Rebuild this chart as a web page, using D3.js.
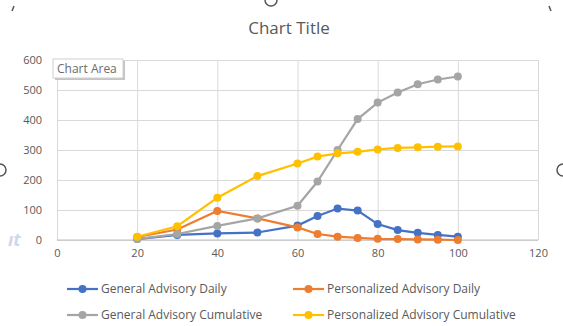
<!DOCTYPE html>
<html>
<head>
<meta charset="utf-8">
<script src="https://cdn.jsdelivr.net/npm/d3@7"></script>
<style>
  body { margin: 0; background: #fff; }
  svg { font-family: "Open Sans", "Noto Sans", sans-serif; }
</style>
</head>
<body>
<svg id="chart" width="563" height="326"></svg>
<script>
let days = [20, 30, 40, 50, 60, 65, 70, 75, 80, 85, 90, 95, 100]
let generalDaily = [3, 17, 22, 25, 48, 80, 105, 98, 53, 33, 24, 17, 11]
let personalDaily = [10, 35, 97, 72, 42, 20, 11, 7, 4, 3, 2, 1, 0]
let generalCumulative = [3, 20, 47, 72, 114, 195, 300, 403, 458, 492, 519, 535, 545]
let personalCumulative = [11, 46, 141, 213, 255, 278, 289, 294, 302, 307, 309, 311, 312]
let seriesNames = ["General Advisory Daily", "Personalized Advisory Daily",
  "General Advisory Cumulative", "Personalized Advisory Cumulative"]
let seriesColors = ["#4472c4", "#ed7d31", "#a5a5a5", "#ffc000"]
let xTicks = [0, 20, 40, 60, 80, 100, 120]
let yTicks = [0, 100, 200, 300, 400, 500, 600]

let svg = d3.select("#chart")
let margins = {left: 57, right: 538, top: 60, bottom: 240}

let x = d3.scaleLinear().domain([0, 120]).range([margins.left, margins.right])
let y = d3.scaleLinear().domain([0, 600]).range([margins.bottom, margins.top])

// selection handle artifacts around the chart frame
let handles = svg.append("g")
  .attr("fill", "none")
  .attr("stroke", "#555")
  .attr("stroke-width", 1.5)
handles.append("path").attr("d", "M265,0 A6,6 0 0 0 277,0")
handles.append("path").attr("d", "M0,164 A6,6 0 0 1 0,176")
handles.append("path").attr("d", "M563,164 A6,6 0 0 0 563,176")
handles.append("path").attr("d", "M14,6 L12,11")
handles.append("path").attr("d", "M549,6 L551,11")

svg.append("text")
  .attr("x", 8).attr("y", 246)
  .attr("font-size", 18).attr("font-weight", "bold").attr("font-style", "italic")
  .attr("fill", "#cdd8ea")
  .text("ıt")

svg.append("text")
  .attr("x", 289).attr("y", 34)
  .attr("text-anchor", "middle")
  .attr("font-size", 17)
  .attr("fill", "#595959")
  .text("Chart Title")

// gridlines
svg.append("g")
  .attr("transform", `translate(0,${margins.bottom})`)
  .call(d3.axisBottom(x).tickValues(xTicks)
    .tickSize(margins.top - margins.bottom).tickFormat(""))
  .call(g => g.select(".domain").remove())
  .call(g => g.selectAll("line").attr("stroke", "#d9d9d9"))

svg.append("g")
  .attr("transform", `translate(${margins.left},0)`)
  .call(d3.axisLeft(y).tickValues(yTicks)
    .tickSize(margins.left - margins.right).tickFormat(""))
  .call(g => g.select(".domain").remove())
  .call(g => g.selectAll("line").attr("stroke", "#d9d9d9"))

// tick labels
svg.append("g")
  .attr("transform", `translate(0,${margins.bottom + 6})`)
  .call(d3.axisBottom(x).tickValues(xTicks).tickSize(0))
  .call(g => g.select(".domain").remove())
  .call(g => g.selectAll("text").attr("font-size", 11).attr("fill", "#595959")
    .attr("font-family", "Open Sans, sans-serif"))

svg.append("g")
  .attr("transform", `translate(${margins.left - 12},0)`)
  .call(d3.axisLeft(y).tickValues(yTicks).tickSize(0))
  .call(g => g.select(".domain").remove())
  .call(g => g.selectAll("text").attr("font-size", 11).attr("fill", "#595959")
    .attr("font-family", "Open Sans, sans-serif"))

svg.append("line")
  .attr("x1", margins.left).attr("x2", margins.right)
  .attr("y1", y(0)).attr("y2", y(0))
  .attr("stroke", "#bfbfbf")

let allSeries = [generalDaily, personalDaily, generalCumulative, personalCumulative]
let line = d3.line().x((d, i) => x(days[i])).y(d => y(d))

allSeries.forEach((values, k) => {
  let g = svg.append("g")
  g.append("path")
    .attr("d", line(values))
    .attr("fill", "none")
    .attr("stroke", seriesColors[k])
    .attr("stroke-width", 2.2)
  g.selectAll("circle")
    .data(values).enter()
    .append("circle")
    .attr("cx", (d, i) => x(days[i]))
    .attr("cy", d => y(d))
    .attr("r", 4)
    .attr("fill", seriesColors[k])
})

// "Chart Area" tooltip
svg.append("rect")
  .attr("x", 55).attr("y", 61).attr("width", 70).attr("height", 19)
  .attr("fill", "#c4c4c4")
svg.append("rect")
  .attr("x", 53).attr("y", 59).attr("width", 70).attr("height", 19)
  .attr("fill", "#fff").attr("stroke", "#cfcfcf")
svg.append("text")
  .attr("x", 57).attr("y", 73)
  .attr("font-size", 12)
  .attr("fill", "#6b6b6b")
  .text("Chart Area")

// legend
let legend = svg.append("g")
let legendPos = [[67, 289], [293, 289], [67, 315], [293, 315]]
seriesNames.forEach((name, k) => {
  let [lx, ly] = legendPos[k]
  legend.append("line")
    .attr("x1", lx).attr("x2", lx + 31)
    .attr("y1", ly).attr("y2", ly)
    .attr("stroke", seriesColors[k]).attr("stroke-width", 2.2)
  legend.append("circle")
    .attr("cx", lx + 15.5).attr("cy", ly).attr("r", 4)
    .attr("fill", seriesColors[k])
  legend.append("text")
    .attr("x", lx + 34).attr("y", ly + 4)
    .attr("font-size", 12)
    .attr("fill", "#595959")
    .text(name)
})
</script>
</body>
</html>
